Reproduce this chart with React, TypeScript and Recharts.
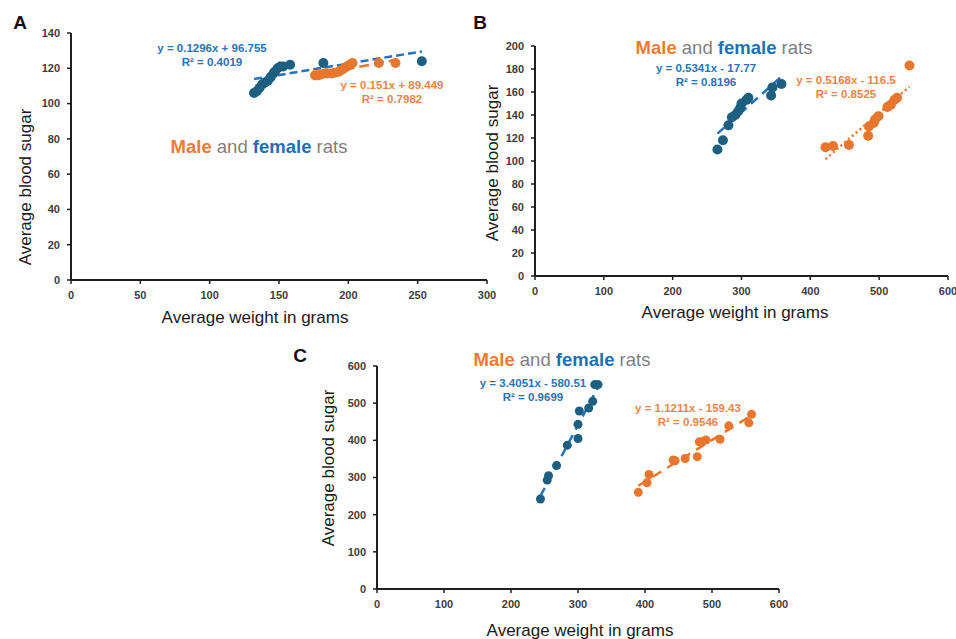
import React from 'react';
import { ScatterChart, Scatter, XAxis, YAxis, ReferenceLine } from 'recharts';

// ---------- Panel A ----------
const femaleA_weight = [132, 134, 136, 138, 140, 142, 144, 146, 147, 149, 151, 153, 158, 182, 253];
const femaleA_sugar = [106, 107, 109, 111, 112, 113, 115, 117, 118, 120, 121, 121, 122, 123, 124];
const maleA_weight = [176, 178, 180, 183, 185, 188, 190, 193, 195, 197, 199, 201, 203, 222, 234];
const maleA_sugar = [116, 116, 116.5, 117, 117, 117, 117.5, 118, 119, 120, 121, 122, 123, 123, 123];
const xTicksA = [0, 50, 100, 150, 200, 250, 300];
const yTicksA = [0, 20, 40, 60, 80, 100, 120, 140];
const eqFemaleA = { slope: 0.1296, intercept: 96.755, label: 'y = 0.1296x + 96.755', r2: 'R² = 0.4019' };
const eqMaleA = { slope: 0.151, intercept: 89.449, label: 'y = 0.151x + 89.449', r2: 'R² = 0.7982' };

// ---------- Panel B ----------
const femaleB_weight = [265, 273, 281, 286, 291, 295, 298, 300, 307, 310, 343, 345, 358];
const femaleB_sugar = [110, 118, 131, 138, 140, 143, 146, 150, 153, 155, 157, 164, 167];
const maleB_weight = [422, 433, 456, 484, 485, 492, 494, 499, 512, 517, 522, 526, 544];
const maleB_sugar = [112, 113, 114, 122, 130, 133, 136, 139, 147, 149, 153, 155, 183];
const xTicksB = [0, 100, 200, 300, 400, 500, 600];
const yTicksB = [0, 20, 40, 60, 80, 100, 120, 140, 160, 180, 200];
const eqFemaleB = { slope: 0.5341, intercept: -17.77, label: 'y = 0.5341x - 17.77', r2: 'R² = 0.8196' };
const eqMaleB = { slope: 0.5168, intercept: -116.5, label: 'y = 0.5168x - 116.5', r2: 'R² = 0.8525' };

// ---------- Panel C ----------
const femaleC_weight = [244, 254, 256, 268, 284, 300, 300, 302, 316, 322, 325, 330];
const femaleC_sugar = [242, 293, 305, 332, 387, 405, 443, 479, 487, 505, 550, 550];
const maleC_weight = [390, 403, 406, 442, 445, 460, 478, 481, 485, 491, 512, 525, 555, 559];
const maleC_sugar = [260, 286, 308, 347, 345, 351, 356, 396, 396, 401, 403, 439, 447, 470];
const xTicksC = [0, 100, 200, 300, 400, 500, 600];
const yTicksC = [0, 100, 200, 300, 400, 500, 600];
const eqFemaleC = { slope: 3.4051, intercept: -580.51, label: 'y = 3.4051x - 580.51', r2: 'R² = 0.9699' };
const eqMaleC = { slope: 1.1211, intercept: -159.43, label: 'y = 1.1211x - 159.43', r2: 'R² = 0.9546' };

const FEMALE_DOT = '#1d5f80';
const MALE_DOT = '#e8762d';
const FEMALE_LINE = '#2272c3';
const MALE_LINE = '#e8762d';
const FEMALE_TEXT = '#2a73b8';
const MALE_TEXT = '#e9854a';
const AXIS = '#1f1f1f';
const TICK_TEXT = '#404040';
const FONT = '"Liberation Sans", Arial, sans-serif';

const zip = (xs: number[], ys: number[]) => xs.map((x, i) => ({ x, y: ys[i] }));

const trend = (xs: number[], eq: { slope: number; intercept: number }) => {
  const lo = Math.min(...xs);
  const hi = Math.max(...xs);
  return [
    { x: lo, y: eq.slope * lo + eq.intercept },
    { x: hi, y: eq.slope * hi + eq.intercept },
  ];
};

const dot = (color: string, r: number) => (p: any) => (
  <circle cx={p.cx} cy={p.cy} r={r} fill={color} />
);

type PanelProps = {
  left: number;
  top: number;
  width: number;
  height: number;
  margin: { top: number; right: number; bottom: number; left: number };
  xMax: number;
  yMax: number;
  xTicks: number[];
  yTicks: number[];
  female: { x: number; y: number }[];
  male: { x: number; y: number }[];
  fTrend: { x: number; y: number }[];
  mTrend: { x: number; y: number }[];
  fDash: string;
  mDash: string;
  r: number;
};

const tickStyle = { fill: TICK_TEXT, fontSize: 11, fontWeight: 'bold', fontFamily: FONT };

function Panel(props: PanelProps) {
  const { left, top, width, height, margin, xMax, yMax, xTicks, yTicks, female, male, fTrend, mTrend, fDash, mDash, r } = props;
  return (
    <div style={{ position: 'absolute', left, top }}>
      <ScatterChart width={width} height={height} margin={margin} style={{ overflow: 'visible' }}>
        <XAxis
          type="number"
          dataKey="x"
          domain={[0, xMax]}
          ticks={xTicks}
          interval={0}
          height={30}
          axisLine={{ stroke: AXIS, strokeWidth: 2 }}
          tickLine={{ stroke: AXIS, strokeWidth: 1.5 }}
          tickSize={4}
          tickMargin={7}
          tick={tickStyle}
        />
        <YAxis
          type="number"
          dataKey="y"
          domain={[0, yMax]}
          ticks={yTicks}
          interval={0}
          width={40}
          axisLine={{ stroke: AXIS, strokeWidth: 2 }}
          tickLine={{ stroke: AXIS, strokeWidth: 1.5 }}
          tickSize={4}
          tickMargin={7}
          tick={tickStyle}
        />
        <Scatter data={female} shape={dot(FEMALE_DOT, r)} isAnimationActive={false} />
        <Scatter data={male} shape={dot(MALE_DOT, r)} isAnimationActive={false} />
        <ReferenceLine segment={fTrend} stroke={FEMALE_LINE} strokeWidth={2.5} strokeDasharray={fDash} />
        <ReferenceLine segment={mTrend} stroke={MALE_LINE} strokeWidth={2.5} strokeDasharray={mDash} />
      </ScatterChart>
    </div>
  );
}

function T({ x, y, children, style, rotate }: { x: number; y: number; children: React.ReactNode; style?: React.CSSProperties; rotate?: boolean }) {
  return (
    <div
      style={{
        position: 'absolute',
        left: x,
        top: y,
        transform: `translate(-50%, -50%)${rotate ? ' rotate(-90deg)' : ''}`,
        whiteSpace: 'nowrap',
        fontFamily: FONT,
        lineHeight: 1,
        ...style,
      }}
    >
      {children}
    </div>
  );
}

const letterStyle: React.CSSProperties = { fontSize: 19, fontWeight: 'bold', color: '#111' };
const axisTitleStyle: React.CSSProperties = { fontSize: 17, color: '#1a1a1a' };
const eqStyle = (c: string): React.CSSProperties => ({ fontSize: 11.5, fontWeight: 'bold', color: c, textAlign: 'center' });

function Title({ x, y }: { x: number; y: number }) {
  return (
    <T x={x} y={y} style={{ fontSize: 18.5, color: '#7f7f7f' }}>
      <span style={{ color: '#ee7b36', fontWeight: 'bold' }}>Male</span> and{' '}
      <span style={{ color: '#1f6fb5', fontWeight: 'bold' }}>female</span> rats
    </T>
  );
}

function Eq({ x, y, eq, color }: { x: number; y: number; eq: { label: string; r2: string }; color: string }) {
  return (
    <>
      <T x={x} y={y} style={eqStyle(color)}>{eq.label}</T>
      <T x={x} y={y + 14} style={eqStyle(color)}>{eq.r2}</T>
    </>
  );
}

export default function App() {
  return (
    <div style={{ position: 'absolute', left: 0, top: 0, width: 956, height: 639, background: '#fff', overflow: 'hidden' }}>
      {/* Panel A */}
      <Panel
        left={0}
        top={0}
        width={500}
        height={330}
        margin={{ top: 33, right: 13, bottom: 20, left: 31 }}
        xMax={300}
        yMax={140}
        xTicks={xTicksA}
        yTicks={yTicksA}
        female={zip(femaleA_weight, femaleA_sugar)}
        male={zip(maleA_weight, maleA_sugar)}
        fTrend={trend(femaleA_weight, eqFemaleA)}
        mTrend={trend(maleA_weight, eqMaleA)}
        fDash="8 4"
        mDash="10 5"
        r={5}
      />
      {/* Panel B */}
      <Panel
        left={480}
        top={0}
        width={476}
        height={330}
        margin={{ top: 46, right: 8, bottom: 24, left: 15 }}
        xMax={600}
        yMax={200}
        xTicks={xTicksB}
        yTicks={yTicksB}
        female={zip(femaleB_weight, femaleB_sugar)}
        male={zip(maleB_weight, maleB_sugar)}
        fTrend={trend(femaleB_weight, eqFemaleB)}
        mTrend={trend(maleB_weight, eqMaleB)}
        fDash="9 6"
        mDash="2 3"
        r={5}
      />
      {/* Panel C */}
      <Panel
        left={300}
        top={340}
        width={500}
        height={299}
        margin={{ top: 26, right: 21, bottom: 20, left: 37 }}
        xMax={600}
        yMax={600}
        xTicks={xTicksC}
        yTicks={yTicksC}
        female={zip(femaleC_weight, femaleC_sugar)}
        male={zip(maleC_weight, maleC_sugar)}
        fTrend={trend(femaleC_weight, eqFemaleC)}
        mTrend={trend(maleC_weight, eqMaleC)}
        fDash="9 6"
        mDash="10 7"
        r={4.5}
      />

      {/* Panel letters */}
      <T x={20} y={22} style={letterStyle}>A</T>
      <T x={480} y={22} style={letterStyle}>B</T>
      <T x={300} y={355} style={letterStyle}>C</T>

      {/* Titles */}
      <Title x={259} y={147} />
      <Title x={724} y={48} />
      <Title x={562} y={360} />

      {/* Equations */}
      <Eq x={212} y={49} eq={eqFemaleA} color={FEMALE_TEXT} />
      <Eq x={392} y={86} eq={eqMaleA} color={MALE_TEXT} />
      <Eq x={706} y={69} eq={eqFemaleB} color={FEMALE_TEXT} />
      <Eq x={846} y={81} eq={eqMaleB} color={MALE_TEXT} />
      <Eq x={533} y={384} eq={eqFemaleC} color={FEMALE_TEXT} />
      <Eq x={688} y={409} eq={eqMaleC} color={MALE_TEXT} />

      {/* Axis titles */}
      <T x={25} y={187} rotate style={axisTitleStyle}>Average blood sugar</T>
      <T x={255} y={317} style={axisTitleStyle}>Average weight in grams</T>
      <T x={492} y={163} rotate style={axisTitleStyle}>Average blood sugar</T>
      <T x={735} y={312} style={axisTitleStyle}>Average weight in grams</T>
      <T x={328} y={468} rotate style={axisTitleStyle}>Average blood sugar</T>
      <T x={580} y={630} style={axisTitleStyle}>Average weight in grams</T>
    </div>
  );
}
